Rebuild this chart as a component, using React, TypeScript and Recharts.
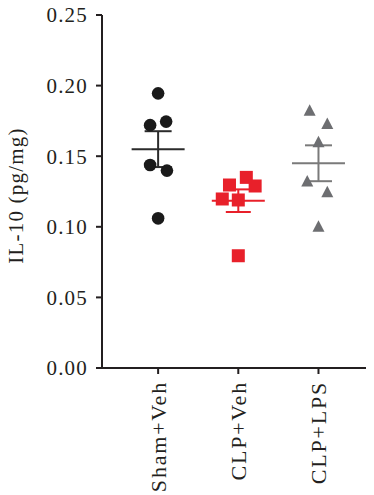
import React from 'react';
import { ScatterChart, Scatter, XAxis, YAxis, Label } from 'recharts';

const groups = ['Sham+Veh', 'CLP+Veh', 'CLP+LPS'];
const groupPos = [1, 2, 3];

const shamValues = [0.1945, 0.172, 0.1745, 0.1438, 0.1398, 0.106];
const shamJitter = [0, -0.1, 0.1, -0.1, 0.11, 0];
const clpVehValues = [0.135, 0.1296, 0.1289, 0.1197, 0.119, 0.0795];
const clpVehJitter = [0.1, -0.11, 0.21, -0.2, 0, 0];
const clpLpsValues = [0.1822, 0.1728, 0.1598, 0.132, 0.1244, 0.1001];
const clpLpsJitter = [-0.11, 0.11, 0, -0.14, 0.11, 0];

const means = [0.155, 0.1185, 0.145];
const sems = [0.0127, 0.008, 0.0127];

const yTicks = [0, 0.05, 0.1, 0.15, 0.2, 0.25];

const colors = ['#1a1a1a', '#e8202a', '#6d6e71'];
const lineColors = ['#2b2b2b', '#e8202a', '#7a7a7a'];

const FONT = '"Liberation Serif", "Times New Roman", serif';
const AXIS = '#231f20';

const toPoints = (vals: number[], jit: number[], gi: number) =>
  vals.map((v, i) => ({ x: groupPos[gi] + jit[i], y: v }));

const shamData = toPoints(shamValues, shamJitter, 0);
const clpVehData = toPoints(clpVehValues, clpVehJitter, 1);
const clpLpsData = toPoints(clpLpsValues, clpLpsJitter, 2);

const meanData = (gi: number) => [{ x: groupPos[gi], y: means[gi] }];
const semData = (gi: number) => [
  { x: groupPos[gi], y: means[gi] - sems[gi] },
  { x: groupPos[gi], y: means[gi] + sems[gi] },
];

const Circle = (p: any) => <circle cx={p.cx} cy={p.cy} r={6.3} fill={colors[0]} />;
const Square = (p: any) => (
  <rect x={p.cx - 6.5} y={p.cy - 6.5} width={13} height={13} fill={colors[1]} />
);
const Tri = (p: any) => (
  <polygon
    points={`${p.cx},${p.cy - 6.5} ${p.cx - 6},${p.cy + 5} ${p.cx + 6},${p.cy + 5}`}
    fill={colors[2]}
  />
);

const meanShape = (color: string) => (p: any) => (
  <line x1={p.cx - 26.5} x2={p.cx + 26.5} y1={p.cy} y2={p.cy} stroke={color} strokeWidth={2} />
);
const capShape = (color: string, w: number) => (p: any) => (
  <line x1={p.cx - w / 2} x2={p.cx + w / 2} y1={p.cy} y2={p.cy} stroke={color} strokeWidth={2} />
);

const XTick = (p: any) => {
  const { x, y, payload } = p;
  const label = groups[groupPos.indexOf(payload.value)] ?? '';
  return (
    <text
      x={x}
      y={y}
      transform={`rotate(-90, ${x}, ${y})`}
      textAnchor="end"
      dominantBaseline="central"
      fontFamily={FONT}
      fontSize={22}
      letterSpacing={1.8}
      fill={AXIS}
    >
      {label}
    </text>
  );
};

const YLabel = (p: any) => {
  const vb = p.viewBox || { x: 0, y: 0, width: 0, height: 0 };
  const cy = vb.y + vb.height / 2 + 4;
  const cx = 16;
  return (
    <text
      x={cx}
      y={cy}
      transform={`rotate(-90, ${cx}, ${cy})`}
      textAnchor="middle"
      dominantBaseline="central"
      fontFamily={FONT}
      fontSize={21}
      letterSpacing={1.2}
      fill={AXIS}
    >
      IL-10 (pg/mg)
    </text>
  );
};

export default function App() {
  return (
    <div style={{ width: 374, height: 495, marginTop: -8, marginLeft: -8 }}>
      <ScatterChart width={374} height={495} margin={{ top: 15, right: 1, left: 0, bottom: 0 }}>
        <XAxis
          type="number"
          dataKey="x"
          domain={[0.3, 3.68]}
          ticks={groupPos}
          interval={0}
          tickSize={6}
          tickMargin={7}
          height={127}
          axisLine={{ stroke: AXIS, strokeWidth: 2 }}
          tickLine={{ stroke: AXIS, strokeWidth: 2 }}
          tick={<XTick />}
          allowDataOverflow
        />
        <YAxis
          type="number"
          dataKey="y"
          domain={[0, 0.25]}
          ticks={yTicks}
          interval={0}
          width={102}
          tickSize={6}
          tickMargin={8}
          tickFormatter={(v: number) => v.toFixed(2)}
          axisLine={{ stroke: AXIS, strokeWidth: 2 }}
          tickLine={{ stroke: AXIS, strokeWidth: 2 }}
          tick={{ fill: AXIS, fontFamily: FONT, fontSize: 21, letterSpacing: 1.2 }}
          allowDataOverflow
        >
          <Label content={<YLabel />} />
        </YAxis>

        {[0, 1, 2].map((gi) => (
          <Scatter
            key={`sem${gi}`}
            data={semData(gi)}
            line={{ stroke: lineColors[gi], strokeWidth: 2 }}
            shape={capShape(lineColors[gi], gi === 1 ? 25 : 27)}
            isAnimationActive={false}
          />
        ))}
        {[0, 1, 2].map((gi) => (
          <Scatter
            key={`mean${gi}`}
            data={meanData(gi)}
            shape={meanShape(lineColors[gi])}
            isAnimationActive={false}
          />
        ))}

        <Scatter data={shamData} shape={Circle} isAnimationActive={false} />
        <Scatter data={clpVehData} shape={Square} isAnimationActive={false} />
        <Scatter data={clpLpsData} shape={Tri} isAnimationActive={false} />
      </ScatterChart>
    </div>
  );
}
